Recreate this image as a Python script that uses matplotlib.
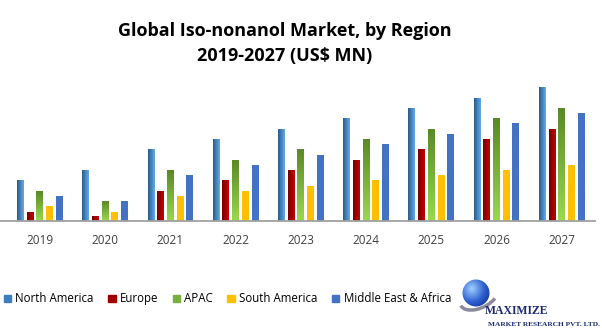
import numpy as np
import matplotlib.pyplot as plt
from matplotlib.colors import LinearSegmentedColormap
from matplotlib.patches import Patch, Circle, Arc

plt.rcParams['font.family'] = ['Open Sans', 'DejaVu Sans']

years = ['2019', '2020', '2021', '2022', '2023', '2024', '2025', '2026', '2027']
north_america = [41, 51, 72, 82, 92, 103, 113, 123, 134]
europe = [9, 5, 30, 41, 51, 61, 72, 82, 92]
apac = [30, 20, 51, 61, 72, 82, 92, 103, 113]
south_america = [15, 9, 25, 30, 35, 41, 46, 51, 56]
mea = [25, 20, 46, 56, 66, 77, 87, 98, 108]

series = [
    ('North America', north_america, ('#2B5B8A', '#62ABEA'), 'h', '#3C7DBF'),
    ('Europe', europe, ('#780000', '#C80000'), 'h', '#A00000'),
    ('APAC', apac, ('#5A8A28', '#9AD84C'), 'v', '#78B040'),
    ('South America', south_america, ('#FFC000', '#FFC000'), 'h', '#FFC000'),
    ('Middle East & Africa', mea, ('#4472C4', '#4472C4'), 'h', '#4472C4'),
]

fig = plt.figure(figsize=(6.02, 3.30), dpi=100)
ax = fig.add_axes([0, 0.3303, 0.988, 0.4242])

x = np.arange(len(years))
pitch = 0.149
width = 0.107

for i, (name, vals, (c0, c1), direction, _) in enumerate(series):
    bars = ax.bar(x + (i - 2) * pitch, vals, width, color=c1, zorder=2)
    cmap = LinearSegmentedColormap.from_list(name, [c0, c1])
    if direction == 'h':
        grad = np.linspace(0, 1, 32).reshape(1, -1)
    else:
        grad = np.linspace(0, 1, 32).reshape(-1, 1)
    for b in bars:
        bx, bw, bh = b.get_x(), b.get_width(), b.get_height()
        im = ax.imshow(grad, cmap=cmap, extent=(bx, bx + bw, 0, bh),
                       origin='upper', aspect='auto', zorder=3)
        im.set_clip_path(b)

ax.set_xlim(-0.613, 8.506)
ax.set_ylim(0, 140)
for s in ['top', 'right', 'left']:
    ax.spines[s].set_visible(False)
ax.spines['bottom'].set_color('#A0A0A0')
ax.spines['bottom'].set_linewidth(1.3)
ax.spines['bottom'].set_zorder(4)
ax.set_yticks([])
ax.set_xticks(x)
ax.set_xticklabels(years, fontsize=8.5, color='#404040')
ax.tick_params(axis='x', length=0, pad=9)

fig.text(0.4726, 0.891, 'Global Iso-nonanol Market, by Region',
         ha='center', va='baseline', fontsize=13, fontweight='bold')
fig.text(0.4726, 0.815, r'2019-2027 (US\$ MN)',
         ha='center', va='baseline', fontsize=13, fontweight='bold')

handles = [Patch(color=s[4], label=s[0]) for s in series]
fig.legend(handles=handles, loc='center left', bbox_to_anchor=(0.006, 0.094),
           ncol=5, frameon=False, fontsize=8.3, handlelength=0.65,
           handleheight=0.65, handletextpad=0.37, columnspacing=1.24,
           borderaxespad=0, borderpad=0)

# logo
lg = fig.add_axes([455 / 602, 0, 147 / 602, 55 / 330])
lg.set_xlim(0, 147)
lg.set_ylim(0, 55)
lg.axis('off')
yy, xx = np.mgrid[-1:1:64j, -1:1:64j]
rr = np.sqrt((xx + 0.3) ** 2 + (yy - 0.3) ** 2)
globe_cmap = LinearSegmentedColormap.from_list('globe', ['#9FD0FF', '#2E5FD0', '#0A1F7A'])
im = lg.imshow(rr, cmap=globe_cmap, extent=(7, 35, 22, 52), origin='lower', zorder=2)
circ = Circle((21, 37), 13.5, transform=lg.transData, facecolor='none', edgecolor='none')
lg.add_patch(circ)
im.set_clip_path(circ)
lg.add_patch(Arc((24, 33), 40, 22, angle=25, theta1=180, theta2=330,
                 color='#8A8A9A', lw=2.5, zorder=3))
lg.text(30, 16, 'MAXIMIZE', fontsize=8.5, fontweight='bold', color='#1B2A6E',
        family='Liberation Serif', va='baseline')
lg.text(33, 4, 'MARKET RESEARCH PVT. LTD.', fontsize=5.3, fontweight='bold',
        color='#1B2A6E', family='Liberation Serif', va='baseline')

fig.savefig('out.png', dpi=100)
